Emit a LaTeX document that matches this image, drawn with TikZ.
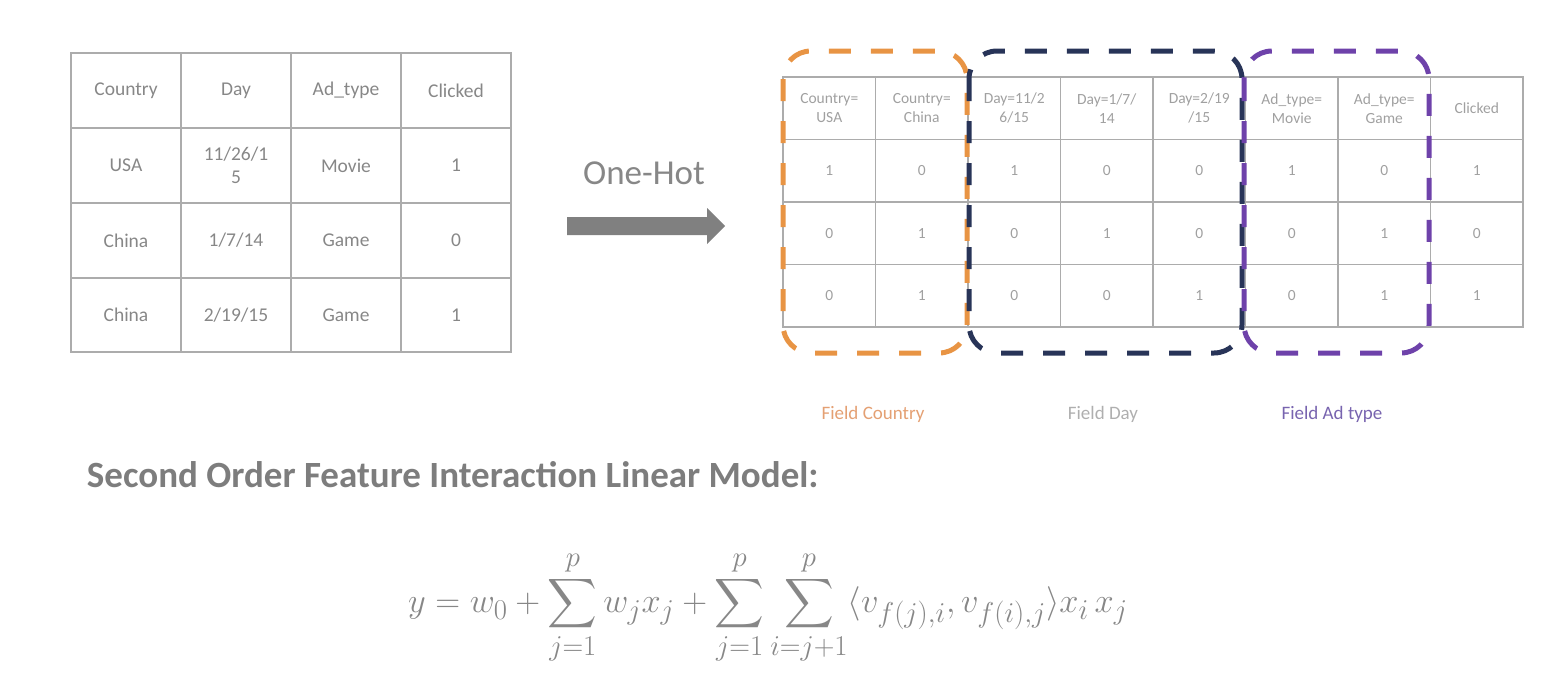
\documentclass[tikz,border=0pt]{standalone}
\usepackage{amsmath}
\usepackage{fontspec}
\setmainfont{Carlito}
\usetikzlibrary{positioning}
\definecolor{linegray}{RGB}{172,172,172}
\definecolor{txtgray}{RGB}{135,135,135}
\definecolor{lighttxt}{RGB}{160,160,160}
\definecolor{headgray}{RGB}{125,125,125}
\definecolor{arrowgray}{RGB}{128,128,128}
\definecolor{cntorange}{RGB}{232,148,68}
\definecolor{daynavy}{RGB}{40,52,88}
\definecolor{adpurple}{RGB}{110,66,170}
\definecolor{fieldorange}{RGB}{228,160,115}
\definecolor{fieldgray}{RGB}{175,175,175}
\definecolor{fieldpurple}{RGB}{120,100,175}
\tikzset{
  tabline/.style={draw=linegray, line width=1.4pt},
  bigcell/.style={inner sep=0.75pt, text=txtgray, align=center, font=\fontsize{19.5}{23}\selectfont},
  smallcell/.style={inner sep=0.75pt, text=lighttxt, align=center, font=\fontsize{15.5}{19}\selectfont},
  fieldbox/.style={line width=5pt, dash pattern=on 22pt off 20pt, rounded corners=28pt},
  fieldlabel/.style={inner sep=0.75pt, font=\fontsize{19}{22}\selectfont},
}

\begin{document}
\begin{tikzpicture}[x=1pt,y=1pt,yscale=-1,xscale=1]
		\useasboundingbox (0,0) rectangle (1564,680);
		% raw table
		\draw[tabline] (71,53) rectangle (511,352);
		\foreach \x in {181,291,401} \draw[tabline] (\x,53) -- (\x,352);
		\foreach \y in {128,203,278} \draw[tabline] (71,\y) -- (511,\y);
		\foreach \txt [count=\c] in {Country,Day,Ad\_type,Clicked}
			\node[bigcell] (raw0\c) at ({16+110*\c},90.5) {\txt};
		\foreach \txt [count=\c] in {USA,{11/26/1\\5},Movie,1}
			\node[bigcell] (raw1\c) at ({16+110*\c},165.5) {\txt};
		\foreach \txt [count=\c] in {China,1/7/14,Game,0}
			\node[bigcell] (raw2\c) at ({16+110*\c},240.5) {\txt};
		\foreach \txt [count=\c] in {China,2/19/15,Game,1}
			\node[bigcell] (raw3\c) at ({16+110*\c},315) {\txt};
		% one-hot arrow
		\fill[arrowgray] (567,217) -- (707,217) -- (707,208) -- (725,226) -- (707,244) -- (707,235) -- (567,235) -- cycle;
		\draw (644,173) node [inner sep=0.75pt, text=txtgray, font=\fontsize{35}{40}\selectfont] (onehot) {One-Hot};
		% encoded table
		\draw[tabline] (783,77) rectangle (1523,327);
		\foreach \k in {1,...,7} \draw[tabline] ({783+92.5*\k},77) -- ({783+92.5*\k},327);
		\foreach \y in {139.5,202,264.5} \draw[tabline] (783,\y) -- (1523,\y);
		\foreach \txt [count=\c] in {Country=\\USA,Country=\\China,Day=11/2\\6/15,Day=1/7/\\14,Day=2/19\\/15,Ad\_type=\\Movie,Ad\_type=\\Game,Clicked}
			\node[smallcell] (hot0\c) at ({736.75+92.5*\c},108.25) {\txt};
		\foreach \txt [count=\c] in {1,0,1,0,0,1,0,1}
			\node[smallcell] (hot1\c) at ({736.75+92.5*\c},170.75) {\txt};
		\foreach \txt [count=\c] in {0,1,0,1,0,0,1,0}
			\node[smallcell] (hot2\c) at ({736.75+92.5*\c},233.25) {\txt};
		\foreach \txt [count=\c] in {0,1,0,0,1,0,1,1}
			\node[smallcell] (hot3\c) at ({736.75+92.5*\c},295.75) {\txt};
		% fields
		\draw[fieldbox, draw=cntorange] (783,51) rectangle (967,353);
		\draw[fieldbox, draw=daynavy] (969,51) rectangle (1242,353);
		\draw[fieldbox, draw=adpurple] (1244,51) rectangle (1429,353);
		\draw (873,414) node [fieldlabel, text=fieldorange] (fcountry) {Field Country};
		\draw (1103,414) node [fieldlabel, text=fieldgray] (fday) {Field Day};
		\draw (1332,414) node [fieldlabel, text=fieldpurple] (fadtype) {Field Ad type};
		% model
		\draw (86,475) node [anchor=west, inner sep=0.75pt, text=headgray, font=\fontsize{37}{44}\selectfont\bfseries] (title) {Second Order Feature Interaction Linear Model:};
		\draw (768,608) node [inner sep=0.75pt, text=txtgray, font=\fontsize{31}{37}\selectfont] (model) {\scalebox{1.385}{$\displaystyle y = w_0 + \sum_{j=1}^{p} w_j x_j + \sum_{j=1}^{p}\sum_{i=j+1}^{p} \langle v_{f(j),i}, v_{f(i),j}\rangle x_i\, x_j$}};
		\end{tikzpicture}
\end{document}
